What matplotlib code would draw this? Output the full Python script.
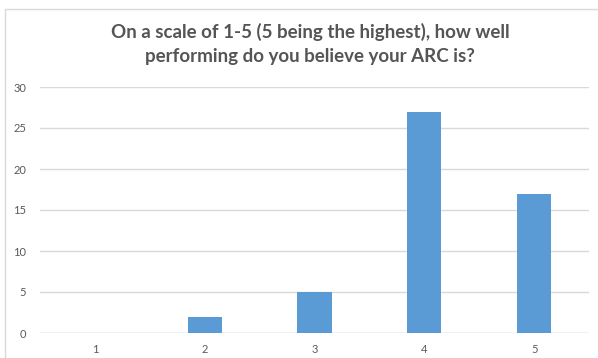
import matplotlib.pyplot as plt
from matplotlib.patches import Rectangle

# data
categories = ['1', '2', '3', '4', '5']
counts = [0, 2, 5, 27, 17]
y_ticks = [0, 5, 10, 15, 20, 25, 30]

bar_color = '#5B9BD5'
text_color = '#595959'
grid_color = '#D9D9D9'

fig = plt.figure(figsize=(5.98, 3.58), dpi=100)
W, H = 598, 358

# chart border (left and top edges visible)
fig.patches.append(Rectangle((5 / W, -0.1), 1.2, (H - 9) / H + 0.1,
                             transform=fig.transFigure, fill=False,
                             edgecolor='#D9D9D9', linewidth=1.0))

ax = fig.add_axes([40 / W, 1 - 333 / H, (589 - 40) / W, (333 - 87) / H])
x = list(range(1, len(categories) + 1))
ax.bar(x, counts, width=0.31, color=bar_color, zorder=3)

ax.set_xlim(0.5, len(categories) + 0.5)
ax.set_ylim(0, 30)
ax.set_yticks(y_ticks)
ax.set_xticks(x)
ax.set_xticklabels(categories)
ax.tick_params(axis='both', length=0, labelsize=8, labelcolor=text_color)
ax.tick_params(axis='y', pad=10)
ax.tick_params(axis='x', pad=8)
ax.grid(axis='y', color=grid_color, linewidth=1.0, zorder=0)
for s in ax.spines.values():
    s.set_visible(False)
ax.axhline(0, color=grid_color, linewidth=1.0, zorder=1)

for lab in ax.get_xticklabels() + ax.get_yticklabels():
    lab.set_family('Lato')

fig.text(310 / W, 1 - 44 / H,
         'On a scale of 1-5 (5 being the highest), how well\nperforming do you believe your ARC is?',
         ha='center', va='center', fontsize=13.5, fontweight='bold',
         color='#555555', family='Lato', linespacing=1.5)

fig.savefig('out.png', dpi=100)
